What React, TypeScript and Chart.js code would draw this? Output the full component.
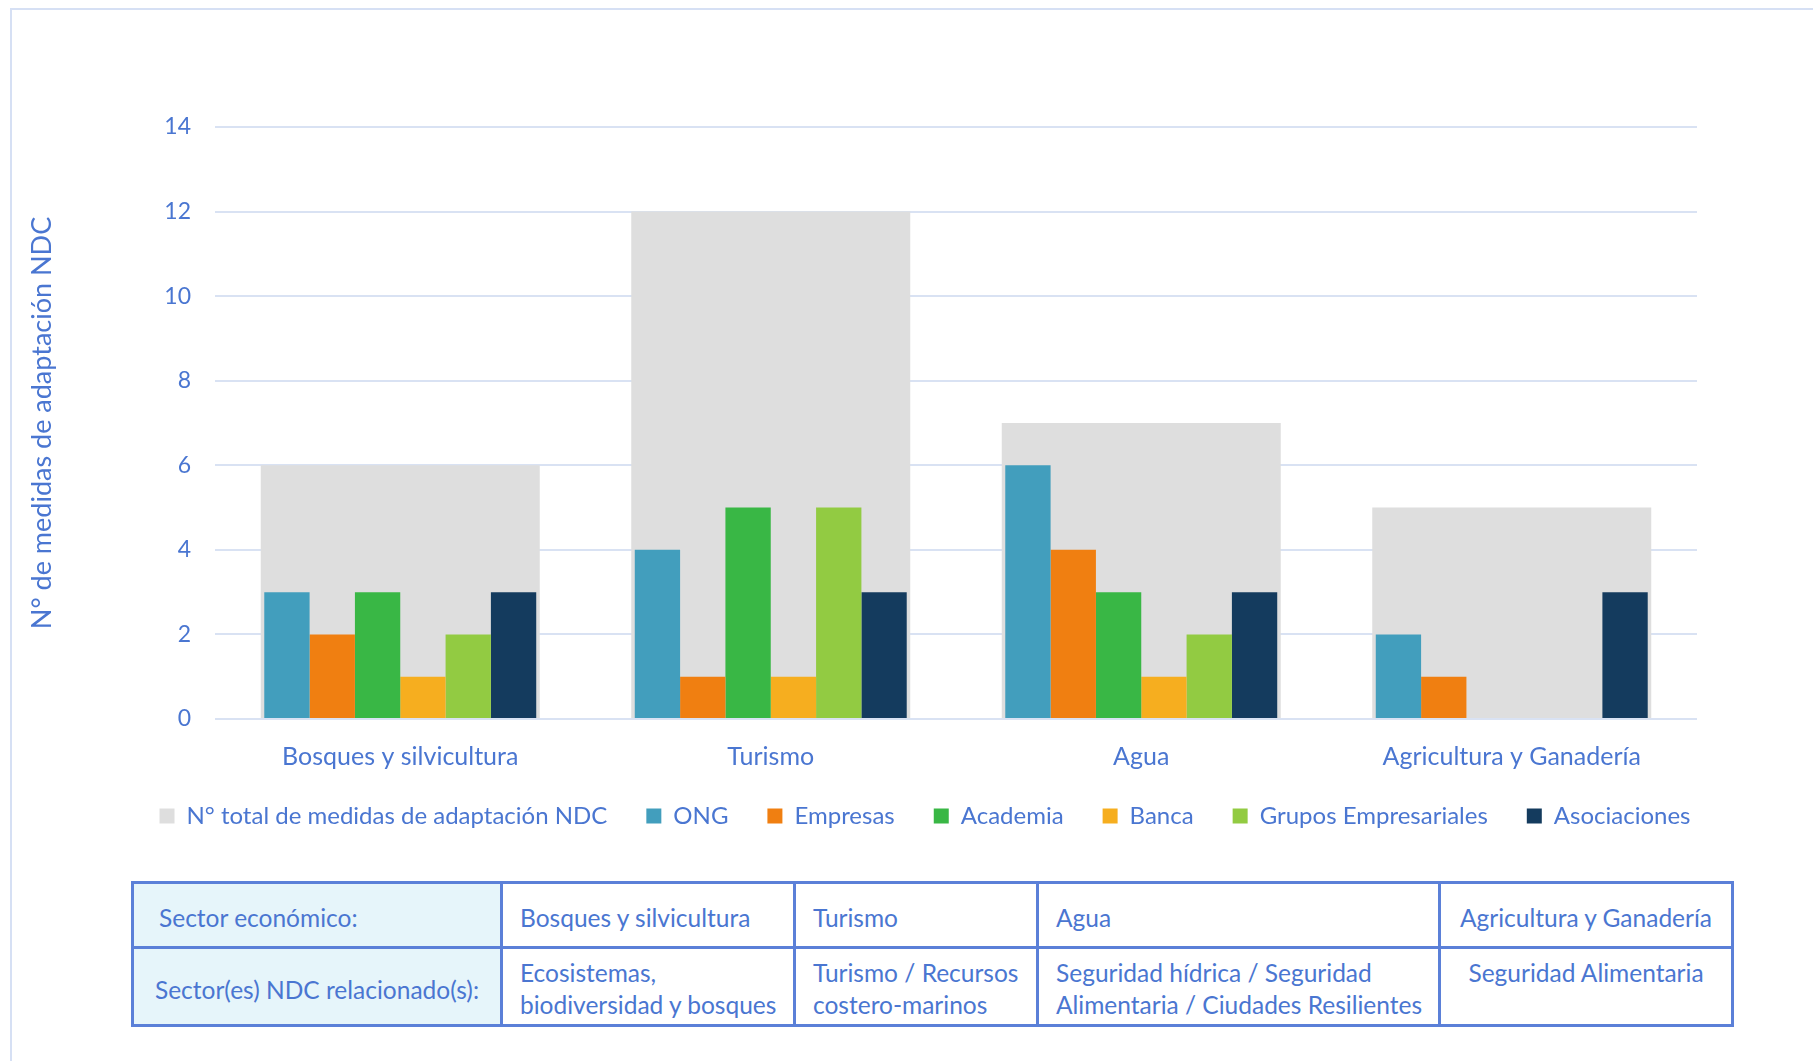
import React, { useEffect, useRef } from 'react';
import { Chart, registerables } from 'chart.js';
Chart.register(...registerables);

const categories = ['Bosques y silvicultura', 'Turismo', 'Agua', 'Agricultura y Ganadería'];
const totalMeasures = [6, 12, 7, 5];
const ong = [3, 4, 6, 2];
const empresas = [2, 1, 4, 1];
const academia = [3, 5, 3, 0];
const banca = [1, 1, 1, 0];
const grupos = [2, 5, 2, 0];
const asociaciones = [3, 3, 3, 3];
const yMin = 0;
const yMax = 14;
const yStep = 2;

const seriesNames = ['N° total de medidas de adaptación NDC', 'ONG', 'Empresas', 'Academia', 'Banca', 'Grupos Empresariales', 'Asociaciones'];
const seriesColors = ['#DEDEDE', '#429EBD', '#F07F11', '#39B745', '#F6AE1F', '#92CB42', '#143B5E'];

const tableRow1 = ['Sector económico:', 'Bosques y silvicultura', 'Turismo', 'Agua', 'Agricultura y Ganadería'];
const tableRow2 = [
  ['Sector(es) NDC relacionado(s):'],
  ['Ecosistemas,', 'biodiversidad y bosques'],
  ['Turismo / Recursos', 'costero-marinos'],
  ['Seguridad hídrica / Seguridad', 'Alimentaria / Ciudades Resilientes'],
  ['Seguridad Alimentaria'],
];

const TEXT = '#4A76D1';
const FONT = 'Lato, "Noto Sans", sans-serif';

export default function App() {
  const ref = useRef<HTMLCanvasElement | null>(null);

  useEffect(() => {
    if (!ref.current) return;
    const values = [totalMeasures, ong, empresas, academia, banca, grupos, asociaciones];
    const datasets: any[] = values.map((v, i) => ({
      label: seriesNames[i],
      data: v,
      backgroundColor: seriesColors[i],
      borderWidth: 0,
      order: i === 0 ? 1 : 0,
      grouped: i !== 0,
      categoryPercentage: i === 0 ? 0.753 : 0.734,
      barPercentage: 1,
      yAxisID: 'y',
    }));
    const chart = new Chart(ref.current, {
      type: 'bar',
      data: { labels: categories, datasets },
      options: {
        responsive: false,
        animation: false,
        layout: { padding: { left: 0, right: 0, top: 127, bottom: 2 } },
        plugins: {
          tooltip: { enabled: false },
          legend: {
            position: 'bottom',
            labels: {
              boxWidth: 15,
              boxHeight: 15,
              padding: 39,
              color: TEXT,
              font: { family: FONT, size: 24 },
              sort: (a: any, b: any) => a.datasetIndex - b.datasetIndex,
            },
          },
        },
        scales: {
          x: {
            grid: { display: false },
            border: { display: false },
            ticks: { color: TEXT, font: { family: FONT, size: 25 }, padding: 15 },
            afterFit: (s: any) => {
              s.height = 46;
              s._computeLabelArea = () => undefined;
            },
          },
          y: {
            min: yMin,
            max: yMax,
            ticks: { stepSize: yStep, color: TEXT, font: { family: FONT, size: 23 }, padding: 24 },
            grid: { color: '#D9E2F3', lineWidth: 2, drawTicks: false },
            border: { display: false },
            title: {
              display: true,
              text: 'N° de medidas de adaptación NDC',
              color: TEXT,
              font: { family: FONT, size: 27 },
              padding: { top: 26, bottom: 0 },
            },
            afterFit: (s: any) => { s.width = 215; },
          },
          spacer: {
            type: 'linear',
            position: 'right',
            display: true,
            grid: { display: false },
            border: { display: false },
            ticks: { display: false },
            afterFit: (s: any) => { s.width = 153; },
          },
        },
      },
    });
    return () => chart.destroy();
  }, []);

  const border = '3px solid #5B80D8';
  const colW = [369, 293, 243, 402, 293];
  const cellBase: React.CSSProperties = {
    border,
    color: TEXT,
    fontFamily: FONT,
    fontSize: 24.5,
    lineHeight: '32px',
    boxSizing: 'border-box',
    padding: 0,
    whiteSpace: 'nowrap',
  };

  return (
    <div style={{ position: 'absolute', left: 0, top: 0, width: 1813, height: 1061, overflow: 'hidden', background: '#fff' }}>
      <div style={{ position: 'absolute', left: 10, top: 8, width: 1900, height: 1100, border: '2px solid #D6E0F4' }} />
      <div style={{ position: 'absolute', left: 0, top: 0, width: 1850, height: 840 }}>
        <canvas ref={ref} width={1850} height={840} style={{ width: 1850, height: 840, display: 'block' }} />
      </div>
      <table style={{ position: 'absolute', left: 131, top: 881, width: 1600, height: 143, borderCollapse: 'collapse', tableLayout: 'fixed' }}>
        <colgroup>
          {colW.map((w, i) => <col key={i} style={{ width: w }} />)}
        </colgroup>
        <tbody>
          <tr style={{ height: 65 }}>
            {tableRow1.map((t, i) => (
              <td key={i} style={{
                ...cellBase,
                background: i === 0 ? '#E6F5FA' : '#fff',
                textAlign: i === 4 ? 'center' : 'left',
                paddingLeft: i === 0 ? 25 : i === 4 ? 0 : 17,
                paddingTop: 5,
                verticalAlign: 'middle',
              }}>{t}</td>
            ))}
          </tr>
          <tr style={{ height: 78 }}>
            {tableRow2.map((lines, i) => (
              <td key={i} style={{
                ...cellBase,
                background: i === 0 ? '#E6F5FA' : '#fff',
                textAlign: i === 0 || i === 4 ? 'center' : 'left',
                paddingLeft: i === 0 || i === 4 ? 0 : 17,
                paddingTop: i === 0 ? 6 : 8,
                verticalAlign: i === 0 ? 'middle' : 'top',
              }}>{lines.map((l, j) => <div key={j}>{l}</div>)}</td>
            ))}
          </tr>
        </tbody>
      </table>
    </div>
  );
}
